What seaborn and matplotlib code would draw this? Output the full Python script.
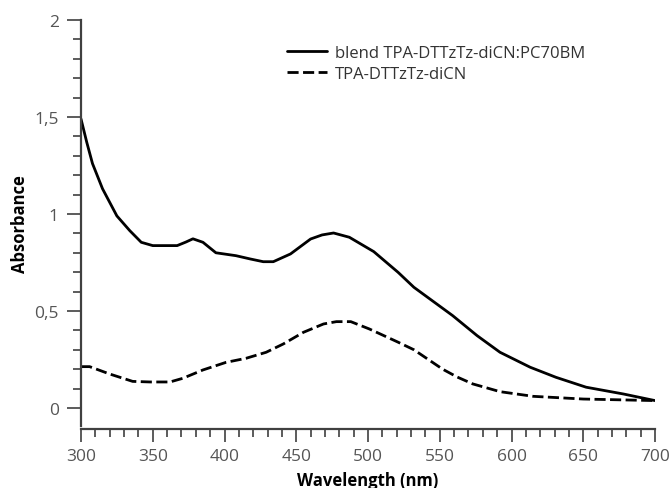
import matplotlib
matplotlib.use("Agg")
import matplotlib.pyplot as plt
from matplotlib.ticker import MultipleLocator, FixedLocator, FixedFormatter
import seaborn as sns
import pandas as pd

# UV-vis absorption spectra
wavelength_blend = [300, 304, 308, 315, 325, 334, 342, 350, 367, 373, 378, 385,
                    394, 408, 418, 427, 434, 446, 460, 468, 476, 487, 504, 521,
                    532, 559, 576, 592, 613, 631, 652, 678, 700]
absorbance_blend = [1.49, 1.37, 1.26, 1.13, 0.99, 0.914, 0.854, 0.837, 0.837, 0.855,
                    0.872, 0.854, 0.80, 0.785, 0.768, 0.754, 0.754, 0.794, 0.871,
                    0.892, 0.902, 0.88, 0.806, 0.699, 0.622, 0.476, 0.373, 0.287,
                    0.21, 0.158, 0.107, 0.072, 0.038]

wavelength_neat = [300, 306, 320, 336, 348, 362, 371, 385, 401, 415, 429, 441, 455,
                   469, 478, 488, 501, 521, 532, 542, 552, 562, 573, 592, 615, 650,
                   700]
absorbance_neat = [0.213, 0.213, 0.175, 0.137, 0.134, 0.134, 0.153, 0.196, 0.235,
                   0.256, 0.287, 0.33, 0.39, 0.433, 0.445, 0.445, 0.407, 0.339,
                   0.30, 0.25, 0.20, 0.16, 0.124, 0.084, 0.06, 0.046, 0.038]

series_names = ["blend TPA-DTTzTz-diCN:PC70BM", "TPA-DTTzTz-diCN"]

x_ticks = [300, 350, 400, 450, 500, 550, 600, 650, 700]
y_ticks = [0, 0.5, 1, 1.5, 2]
y_tick_labels = ["0", "0,5", "1", "1,5", "2"]

df = pd.concat([
    pd.DataFrame({"Wavelength": wavelength_blend, "Absorbance": absorbance_blend,
                  "Sample": series_names[0]}),
    pd.DataFrame({"Wavelength": wavelength_neat, "Absorbance": absorbance_neat,
                  "Sample": series_names[1]}),
])

sns.set_theme(style="ticks")
plt.rcParams["font.family"] = ["Open Sans", "DejaVu Sans"]

fig = plt.figure(figsize=(6.72, 4.89), dpi=100)
ax = fig.add_axes([81 / 672, 1 - 427 / 489, (655 - 81) / 672, (427 - 21) / 489])

sns.lineplot(data=df, x="Wavelength", y="Absorbance", hue="Sample", style="Sample",
             hue_order=series_names, style_order=series_names,
             palette=["black", "black"], dashes=["", (4, 1.6)],
             linewidth=2.0, ax=ax, legend=True, sort=False)

ax.set_xlim(300, 700)
ax.set_ylim(-0.093, 2)

ax.xaxis.set_major_locator(FixedLocator(x_ticks))
ax.xaxis.set_minor_locator(MultipleLocator(10))
ax.yaxis.set_major_locator(FixedLocator(y_ticks))
ax.yaxis.set_major_formatter(FixedFormatter(y_tick_labels))
ax.yaxis.set_minor_locator(MultipleLocator(0.1))

axis_color = "#404040"
for side in ["top", "right"]:
    ax.spines[side].set_visible(False)
for side in ["left", "bottom"]:
    ax.spines[side].set_color(axis_color)
    ax.spines[side].set_linewidth(1.6)
ax.spines["bottom"].set_position(("outward", 2))

ax.tick_params(axis="x", which="major", direction="out", length=9, width=1.2,
               color=axis_color, labelsize=12.5, labelcolor="#555555", pad=5)
ax.tick_params(axis="x", which="minor", direction="out", length=5.5, width=1.2,
               color=axis_color)
ax.tick_params(axis="y", which="major", direction="out", length=10, width=1.2,
               color=axis_color, labelsize=12.5, labelcolor="#555555", pad=6)
ax.tick_params(axis="y", which="minor", direction="out", length=6, width=1.2,
               color=axis_color)

ax.set_xlabel("Wavelength (nm)", fontsize=12, fontweight="bold", color="black",
              labelpad=5)
ax.set_ylabel("Absorbance", fontsize=12, fontweight="bold", color="black",
              labelpad=4)

handles, labels = ax.get_legend_handles_labels()
leg = ax.legend(handles, labels, loc="upper left",
                bbox_to_anchor=(287 / 672, 1 - 46 / 489),
                bbox_transform=fig.transFigure, frameon=False, fontsize=12,
                handlelength=2.4, handletextpad=0.5, labelspacing=0.3,
                borderpad=0, borderaxespad=0)
for t in leg.get_texts():
    t.set_color("#333333")
for line in leg.get_lines():
    line.set_linewidth(2.0)

fig.savefig("out.png", dpi=100)
